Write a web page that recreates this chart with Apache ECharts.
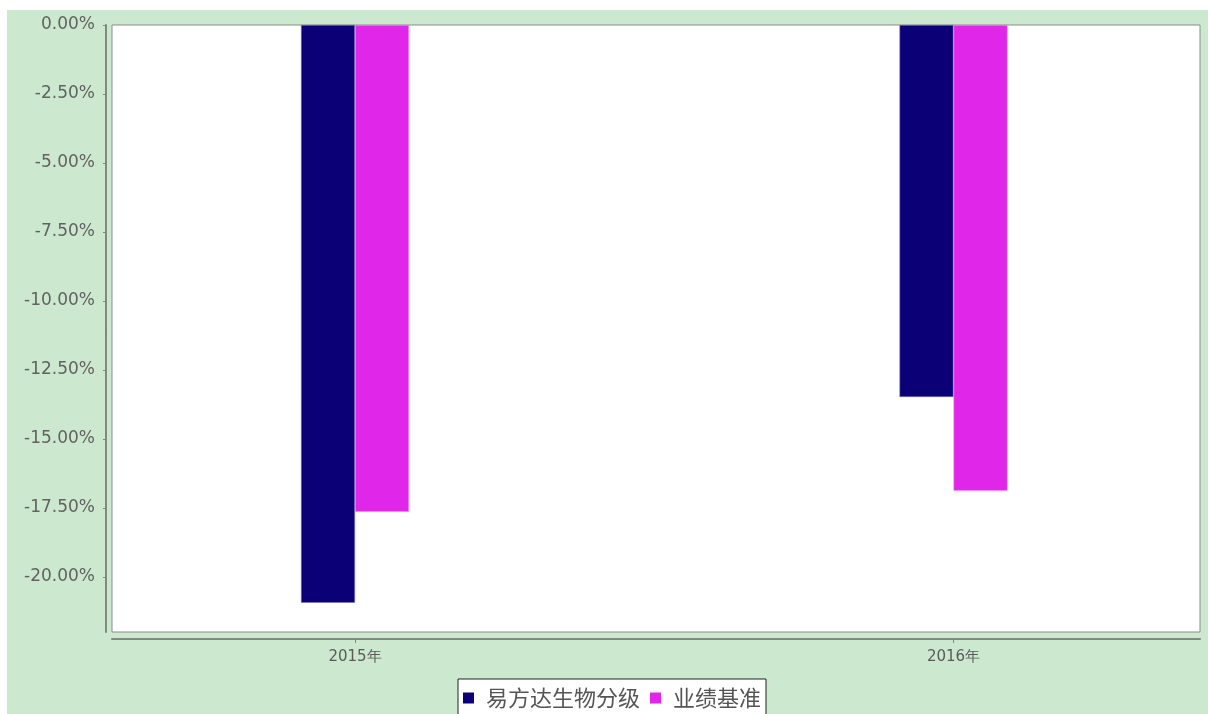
<!DOCTYPE html>
<html>
<head>
<meta charset="utf-8">
<script src="https://cdn.jsdelivr.net/npm/echarts@6/dist/echarts.min.js"></script>
<style>
html,body{margin:0;padding:0;background:#fff;width:1208px;height:714px;overflow:hidden;}
#c{position:absolute;left:7px;top:10px;width:1201px;height:704px;background:#cce8cf;}
</style>
</head>
<body>
<div id="c"></div>
<script>
const categories = ['2015年', '2016年'];
const seriesNames = ['易方达生物分级', '业绩基准'];
const fundValues = [-20.94, -13.48];
const benchValues = [-17.64, -16.88];
const yTickValues = [0, -2.5, -5, -7.5, -10, -12.5, -15, -17.5, -20];

const chart = echarts.init(document.getElementById('c'), null, {renderer: 'canvas'});
const axisGray = '#7f8a80';
chart.setOption({
  animation: false,
  backgroundColor: '#cce8cf',
  grid: [
    {left: 348, width: 598.5, top: 15, bottom: 82, show: false},
    {left: 105, right: 8, top: 15, bottom: 82, show: true, backgroundColor: '#ffffff', borderColor: '#8c8c8c', borderWidth: 1, z: 0}
  ],
  xAxis: [
    {
      gridIndex: 0, type: 'category', data: categories, offset: 7, boundaryGap: false,
      axisLine: {show: false, onZero: false},
      axisTick: {show: true, length: 4, lineStyle: {color: axisGray}},
      axisLabel: {color: '#5a5a5a', fontSize: 15, fontFamily: 'DejaVu Sans', margin: 11},
      splitLine: {show: false}
    },
    {
      gridIndex: 1, type: 'value', min: 0, max: 1, offset: 7,
      axisLine: {show: true, onZero: false, lineStyle: {color: axisGray, width: 2}},
      axisTick: {show: false}, axisLabel: {show: false}, splitLine: {show: false}
    }
  ],
  yAxis: [
    {
      gridIndex: 0, type: 'value', min: -22, max: 0, show: false, splitLine: {show: false}
    },
    {
      gridIndex: 1, type: 'value', min: -22, max: 0, offset: 6,
      axisLine: {show: true, onZero: false, lineStyle: {color: axisGray, width: 2}},
      axisTick: {show: true, length: 3, customValues: yTickValues, lineStyle: {color: axisGray}},
      axisLabel: {
        color: '#626262', fontSize: 17, fontFamily: 'DejaVu Sans', margin: 11,
        customValues: yTickValues,
        formatter: v => v.toFixed(2) + '%'
      },
      splitLine: {show: false}
    }
  ],
  legend: {
    left: 451, top: 669,
    data: seriesNames,
    icon: 'rect', itemWidth: 11, itemHeight: 11, itemGap: 10,
    itemStyle: {borderWidth: 0},
    backgroundColor: '#ffffff', borderColor: '#222', borderWidth: 1,
    padding: [8, 5, 12, 5],
    textStyle: {fontFamily: 'Noto Sans CJK SC', fontSize: 22, color: '#555', padding: [0, 0, 0, 7]}
  },
  series: [
    {
      name: seriesNames[0], type: 'bar', xAxisIndex: 0, yAxisIndex: 0,
      data: fundValues, barWidth: 54, barGap: '0%',
      itemStyle: {color: '#0c0077', borderColor: '#6f6fc0', borderWidth: 0.6}, z: 5
    },
    {
      name: seriesNames[1], type: 'bar', xAxisIndex: 0, yAxisIndex: 0,
      data: benchValues, barWidth: 54, barGap: '0%',
      itemStyle: {color: '#e026e8', borderColor: '#f08cf4', borderWidth: 0.6}, z: 5
    }
  ]
});
</script>
</body>
</html>
